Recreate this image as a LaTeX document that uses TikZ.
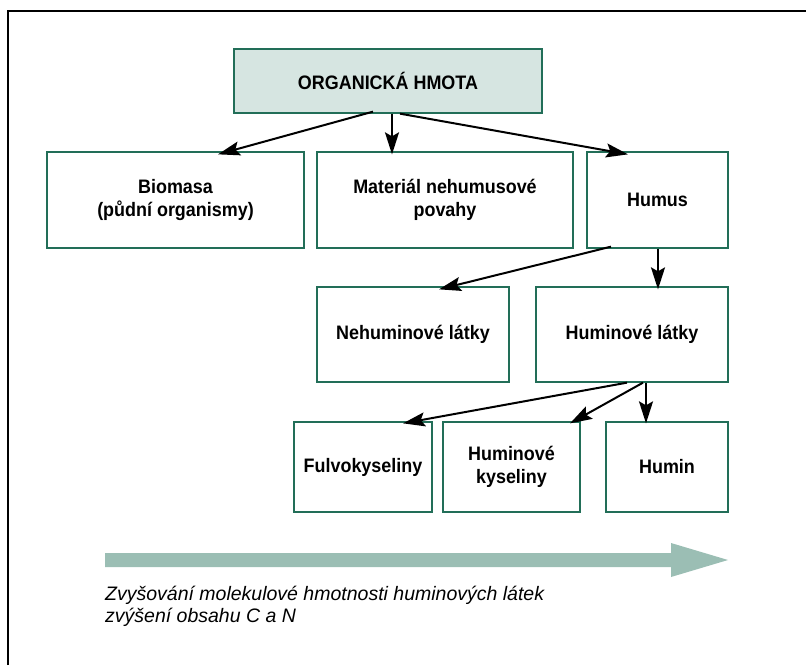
\documentclass[tikz,border=0pt]{standalone}
\usepackage{fontspec}
\setmainfont{Liberation Sans}
\newfontfamily\boxfont{Liberation Sans}[FakeStretch=0.92]
\usetikzlibrary{arrows.meta}
\definecolor{boxline}{RGB}{34,110,88}
\definecolor{topfill}{RGB}{214,229,225}
\definecolor{bigarrow}{RGB}{155,190,180}
\begin{document}
\begin{tikzpicture}[x=1pt,y=-1pt,>={Stealth[length=22pt,width=14pt,inset=4pt]},
    box/.style={draw=boxline,line width=1.3pt,align=center,inner sep=0pt,
      font=\boxfont\bfseries\fontsize{19.5}{23}\selectfont},
    arr/.style={->,line width=2pt}]
  \useasboundingbox (0,0) rectangle (806,665);
  % frame
  \draw[line width=1.2pt] (8,665) -- (8,11) -- (806,11);
  % boxes
  \node[box,fill=topfill,minimum width=308pt,minimum height=64pt] (organic) at (388,81) {ORGANICKÁ HMOTA};
  \node[box,minimum width=257pt,minimum height=96pt] (biomasa) at (175.5,200) {Biomasa\\(půdní organismy)};
  \node[box,minimum width=256pt,minimum height=96pt] (material) at (445,200) {Materiál nehumusové\\povahy};
  \node[box,minimum width=141pt,minimum height=96pt] (humus) at (657.5,200) {Humus};
  \node[box,minimum width=192pt,minimum height=95pt] (nehum) at (413,334.5) {Nehuminové látky};
  \node[box,minimum width=192pt,minimum height=95pt] (humlat) at (632,334.5) {Huminové látky};
  \node[box,minimum width=138pt,minimum height=90pt] (fulvo) at (363,467) {Fulvokyseliny};
  \node[box,minimum width=137pt,minimum height=90pt] (humkys) at (511.5,467) {Huminové\\kyseliny};
  \node[box,minimum width=122pt,minimum height=90pt] (humin) at (667,467) {Humin};
  % arrows
  \draw[arr] ([xshift=-15pt,yshift=2pt]organic.south) -- ([xshift=42.5pt,yshift=-3pt]biomasa.north);
  \draw[arr] ([xshift=4pt]organic.south) -- ([xshift=-53pt,yshift=-3pt]material.north);
  \draw[arr] ([xshift=12pt]organic.south) -- ([xshift=-29.5pt,yshift=-3pt]humus.north);
  \draw[arr] ([xshift=-46.5pt,yshift=2pt]humus.south) -- ([xshift=26pt,yshift=-3pt]nehum.north);
  \draw[arr] ([xshift=0.5pt]humus.south) -- ([xshift=26pt,yshift=-3pt]humlat.north);
  \draw[arr] ([xshift=-5pt]humlat.south) -- ([xshift=40pt,yshift=-2pt]fulvo.north);
  \draw[arr] ([xshift=11pt]humlat.south) -- ([xshift=58.5pt,yshift=-2pt]humkys.north);
  \draw[arr] ([xshift=14pt]humlat.south) -- ([xshift=-21pt,yshift=-2pt]humin.north);
  % bottom arrow and note
  \fill[bigarrow] (105,553) -- (671,553) -- (671,543) -- (728,560) -- (671,577) -- (671,567) -- (105,567) -- cycle;
  \node[anchor=north west,align=left,inner sep=0pt,font=\itshape\fontsize{19.5}{22}\selectfont] (note) at (105,586)
    {Zvyšování molekulové hmotnosti huminových látek\\zvýšení obsahu C a N};
\end{tikzpicture}
\end{document}
